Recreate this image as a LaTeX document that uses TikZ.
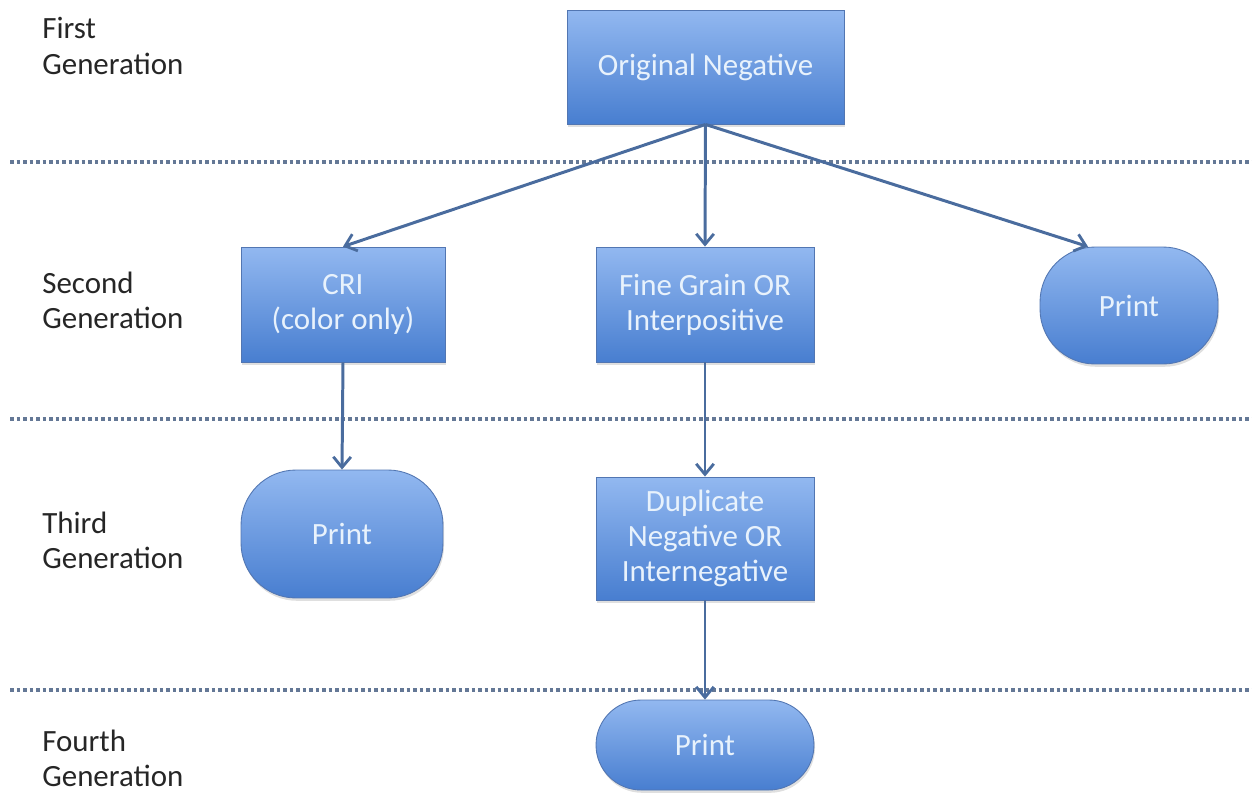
\documentclass[tikz,border=0pt]{standalone}
\usepackage{fontspec}
\setmainfont{Carlito}
\usetikzlibrary{arrows.meta,shadows}
\definecolor{boxtop}{RGB}{146,184,240}
\definecolor{boxbot}{RGB}{72,126,208}
\definecolor{boxline}{RGB}{82,118,178}
\definecolor{arrowcol}{RGB}{74,108,158}
\definecolor{sepcol}{RGB}{100,120,150}
\definecolor{boxtext}{RGB}{232,242,252}
\tikzset{
    gen/.style={draw=boxline,line width=0.5pt,top color=boxtop,bottom color=boxbot,
        text=boxtext,align=center,inner sep=0pt,
        font=\fontsize{17.6}{20}\selectfont,
        drop shadow={opacity=0.25,shadow xshift=0.6pt,shadow yshift=-1.6pt}},
    genbox/.style={gen},
    genprint/.style={gen,rounded corners=1.1cm},
    genlabel/.style={anchor=west,align=left,text=black!85,inner sep=0pt,
        font=\fontsize{17.6}{20}\selectfont},
    sep/.style={sepcol,line width=2.2pt,dash pattern=on 2pt off 1.7pt},
    flow/.style={arrowcol,line width=1.7pt,-{Straight Barb[length=6pt,width=10pt,line width=1.6pt]}}
}
\begin{document}
\begin{tikzpicture}[x=0.02cm,y=-0.02cm]
    \useasboundingbox (0,0) rectangle (1252,792);
    \foreach \y in {162,419,690}
    \draw [sep] (10,\y) -- (1252,\y);
    \node[genlabel] (l1) at (42,46) {First\\Generation};
    \node[genlabel] (l2) at (42,300) {Second\\Generation};
    \node[genlabel] (l3) at (42,540) {Third\\Generation};
    \node[genlabel] (l4) at (42,758) {Fourth\\Generation};
    \node[genbox,minimum width=5.54cm,minimum height=2.28cm] (orig) at (705.5,67) {Original Negative};
    \node[genbox,minimum width=4.08cm,minimum height=2.3cm] (cri) at (343,304.5) {CRI\\(color only)};
    \node[genbox,minimum width=4.36cm,minimum height=2.3cm] (fine) at (705,304.5) {Fine Grain OR\\Interpositive};
    \node[genprint,minimum width=3.56cm,minimum height=2.34cm] (printa) at (1129,305.5) {Print};
    \node[genprint,minimum width=4.04cm,minimum height=2.56cm] (printb) at (342,534) {Print};
    \node[genbox,minimum width=4.36cm,minimum height=2.46cm] (dup) at (705,538.5) {Duplicate\\Negative OR\\Internegative};
    \node[genprint,rounded corners=0.9cm,minimum width=4.36cm,minimum height=1.8cm] (printc) at (705,745) {Print};
    \coordinate (pa) at ([xshift=-0.82cm]printa.north);
    \draw [flow] (orig.south) -- (cri.north);
    \draw [flow] (orig.south) -- (fine.north);
    \draw [flow] (orig.south) -- (pa);
    \draw [flow] (cri.south) -- (printb.north);
    \draw [flow] (fine.south) -- (dup.north);
    \draw [flow] (dup.south) -- (printc.north);
\end{tikzpicture}
\end{document}
